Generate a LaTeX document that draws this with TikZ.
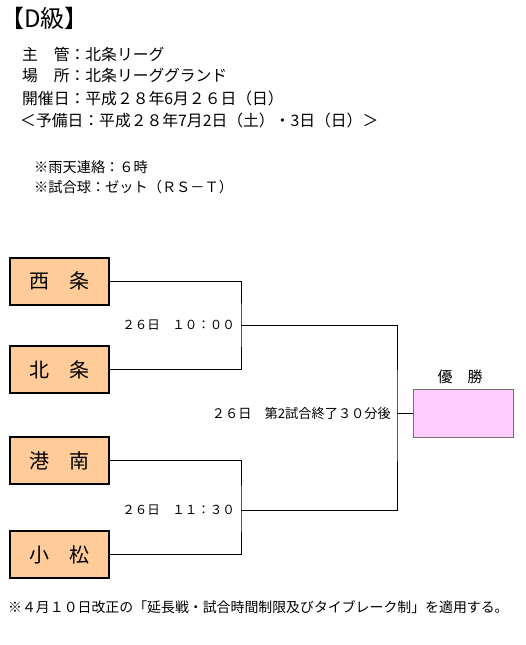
\documentclass[tikz,border=0pt]{standalone}
\usepackage{fontspec}
\setmainfont{Noto Sans CJK JP}
\usepackage{xcolor}
\usetikzlibrary{positioning, calc}
\definecolor{teamfill}{HTML}{FFCC99}
\definecolor{winfill}{HTML}{FFCCFF}
\definecolor{wingray}{HTML}{707070}

\begin{document}
\begin{tikzpicture}[x=1pt, y=-1pt,
    team/.style={draw, line width=2pt, fill=teamfill, minimum width=99pt, minimum height=47pt,
        inner sep=0pt, font=\fontsize{20}{20}\selectfont},
    info/.style={anchor=west, inner sep=0pt, font=\fontsize{15.8}{16}\selectfont},
    note/.style={anchor=west, inner sep=0pt, font=\fontsize{14.2}{15}\selectfont},
    time/.style={anchor=east, inner sep=0pt, font=\fontsize{12.5}{13}\selectfont},
    bracket/.style={line width=1pt}]
    \useasboundingbox (0,0) rectangle (525,645);
    % header
    \node[anchor=west, inner sep=0pt, font=\fontsize{24}{24}\selectfont] (title) at (0,18) {【D級】};
    \node[info] (host) at (22,54) {主　管：北条リーグ};
    \node[info] (place) at (22,76) {場　所：北条リーググランド};
    \node[info] (date) at (22,98) {開催日：平成２８年6月２６日（日）};
    \node[info] (spare) at (20,120) {＜予備日：平成２８年7月2日（土）・3日（日）＞};
    \node[note] (rain) at (34,167) {※雨天連絡：６時};
    \node[note] (ball) at (34,187) {※試合球：ゼット（ＲＳ－Ｔ）};
    % teams
    \node[team] (seijo) at (59,281) {西　条};
    \node[team] (hokujo) at (59,369.5) {北　条};
    \node[team] (konan) at (59,460.5) {港　南};
    \node[team] (komatsu) at (59,554.5) {小　松};
    \node[draw=wingray, line width=1.5pt, fill=winfill, minimum width=100pt, minimum height=48pt]
        (winner) at (463.5,413.5) {};
    \node[font=\fontsize{15}{15}\selectfont, inner sep=0pt] (wlabel) at (460,377) {優　勝};
    % bracket
    \coordinate (m1) at (241,325);
    \coordinate (m2) at (241,510);
    \coordinate (f) at (397,413.5);
    \draw[bracket] (seijo.east) -| (m1) |- (hokujo.east);
    \draw[bracket] (konan.east) -| (m2) |- (komatsu.east);
    \draw[bracket] (m1) -| (f) |- (m2);
    \draw[bracket] (f) -- (winner.west);
    % times
    \node[time] (t1) at (235,325) {２６日　１０：００};
    \node[time] (t2) at (235,510) {２６日　１１：３０};
    \node[time, font=\fontsize{13.2}{14}\selectfont] (t3) at (391,413) {２６日　第2試合終了３０分後};
    % footer
    \node[note, font=\fontsize{13.9}{14}\selectfont] (footnote) at (8,607) {※４月１０日改正の「延長戦・試合時間制限及びタイブレーク制」を適用する。};
\end{tikzpicture}
\end{document}
